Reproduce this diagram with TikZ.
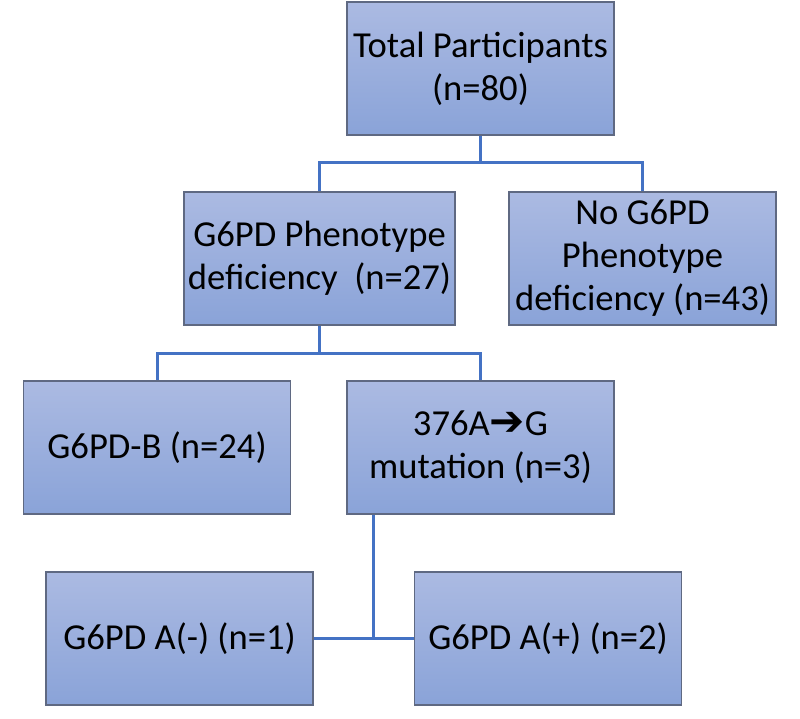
\documentclass[tikz,border=0pt]{standalone}
\usepackage{fontspec}
\setmainfont{Carlito}
\newfontfamily\arrowfont{DejaVu Sans}
\usepackage{tikz}

\definecolor{boxtop}{RGB}{171,186,226}
\definecolor{boxbot}{RGB}{138,163,216}
\definecolor{boxedge}{RGB}{95,105,130}
\definecolor{link}{RGB}{68,114,196}

\tikzset{
  group/.style={rectangle, draw=boxedge, line width=0.6pt,
    top color=boxtop, bottom color=boxbot,
    minimum width=133.5pt, minimum height=66.5pt, inner sep=2pt,
    align=center, font=\fontsize{18.3pt}{21.5pt}\selectfont},
  branch/.style={draw=link, line width=1.5pt}
}

\begin{document}
\begin{tikzpicture}[x=0.5pt, y=-0.5pt]
\useasboundingbox (0,0) rectangle (800,719);

\node[group] (total) at (480.5,68.5) {Total Participants\\(n=80)};
\node[group] (pheno) at (319.5,258.5) {G6PD Phenotype\\deficiency\ \ (n=27)};
\node[group] (nopheno) at (642.5,258.5) {No G6PD\\Phenotype\\deficiency (n=43)};
\node[group] (typeb) at (157,447.5) {G6PD-B (n=24)};
\node[group] (mutation) at (480.5,447.5) {376A{\arrowfont\fontsize{21pt}{21.5pt}\selectfont ➔}G\\mutation (n=3)};
\node[group] (aneg) at (179.5,638.5) {G6PD A(-) (n=1)};
\node[group] (apos) at (548,638.5) {G6PD A(+) (n=2)};

% first split
\draw[branch] (total.south) -- ++(0,27) -| (pheno.north);
\draw[branch] (total.south) -- ++(0,27) -| (nopheno.north);

% deficient group
\draw[branch] (pheno.south) -- ++(0,28) -| (typeb.north);
\draw[branch] (pheno.south) -- ++(0,28) -| (mutation.north);

% mutation subtypes
\coordinate (split) at (373,638.5);
\draw[branch] (split |- mutation.south) -- (split);
\draw[branch] (aneg.east) -- (apos.west);
\end{tikzpicture}
\end{document}
